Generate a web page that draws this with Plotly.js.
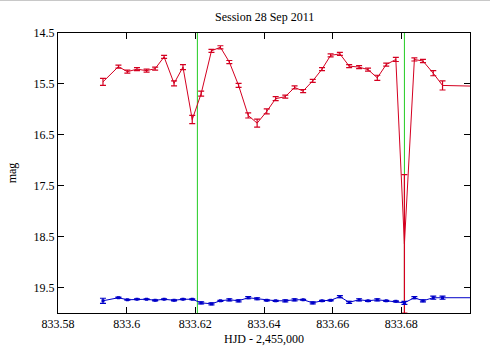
<!DOCTYPE html>
<html>
<head>
<meta charset="utf-8">
<script src="https://cdn.plot.ly/plotly-3.0.1.min.js"></script>
<style>
html,body{margin:0;padding:0;background:#fff;}
#chart{width:490px;height:360px;box-sizing:border-box;border-top:1px solid #c8c8c8;}
</style>
</head>
<body>
<div id="chart"></div>
<script>
// HJD - 2,455,000
const hjd = [833.5931, 833.5976, 833.6002, 833.6030, 833.6058, 833.6083, 833.6109, 833.6138, 833.6164, 833.6191,
             833.6217, 833.6247, 833.6273, 833.6299, 833.6326, 833.6354, 833.6380, 833.6408, 833.6434, 833.6462,
             833.6489, 833.6514, 833.6542, 833.6569, 833.6594, 833.6621, 833.6648, 833.6677, 833.6703, 833.6730,
             833.6756, 833.6784, 833.6809, 833.6838, 833.6863, 833.6893, 833.6920, 833.7050];
const magTarget = [15.46, 15.16, 15.26, 15.21, 15.24, 15.20, 14.97, 15.49, 15.17, 16.20,
                   15.69, 14.85, 14.78, 15.07, 15.53, 16.12, 16.27, 16.04, 15.79, 15.75,
                   15.57, 15.64, 15.44, 15.21, 14.94, 14.91, 15.15, 15.17, 15.22, 15.38,
                   15.12, 15.02, 18.64, 15.02, 15.05, 15.29, 15.53, 15.55];
const errTarget = [0.07, 0.03, 0.03, 0.03, 0.03, 0.03, 0.03, 0.05, 0.05, 0.08,
                   0.05, 0.03, 0.03, 0.03, 0.04, 0.05, 0.08, 0.05, 0.04, 0.03,
                   0.03, 0.03, 0.03, 0.03, 0.03, 0.03, 0.03, 0.03, 0.03, 0.05,
                   0.03, 0.04, 1.36, 0.03, 0.03, 0.05, 0.09, 0.05];
const magComp = [19.76, 19.70, 19.74, 19.73, 19.73, 19.75, 19.73, 19.75, 19.73, 19.73,
                 19.80, 19.82, 19.76, 19.74, 19.76, 19.70, 19.72, 19.75, 19.76, 19.76,
                 19.74, 19.74, 19.80, 19.76, 19.75, 19.68, 19.79, 19.74, 19.76, 19.74,
                 19.76, 19.77, 19.80, 19.70, 19.76, 19.70, 19.70, 19.70];
const errComp = [0.05, 0.01, 0.01, 0.01, 0.01, 0.01, 0.01, 0.01, 0.01, 0.01,
                 0.02, 0.02, 0.01, 0.02, 0.02, 0.02, 0.02, 0.01, 0.01, 0.02,
                 0.02, 0.01, 0.02, 0.01, 0.01, 0.02, 0.02, 0.02, 0.01, 0.02,
                 0.01, 0.01, 0.03, 0.02, 0.02, 0.03, 0.03, 0.01];
const markerTimes = [833.6206, 833.6809];
const xTickVals = [833.58, 833.60, 833.62, 833.64, 833.66, 833.68];
const xTickText = ['833.58', '833.6', '833.62', '833.64', '833.66', '833.68'];
const yTickVals = [14.5, 15.5, 16.5, 17.5, 18.5, 19.5];
const yTickText = ['14.5', '15.5', '16.5', '17.5', '18.5', '19.5'];

const red = '#d40020', blue = '#0000c8', green = '#22cc22';
const serif = '"Liberation Serif", "DejaVu Serif", serif';

const traces = [
  {x: hjd, y: magTarget, type: 'scatter', mode: 'lines',
   line: {color: red, width: 1},
   error_y: {type: 'data', array: errTarget, visible: true, color: red, thickness: 1.2, width: 3}},
  {x: hjd, y: magComp, type: 'scatter', mode: 'lines+markers',
   line: {color: blue, width: 1},
   marker: {color: blue, size: 3, symbol: 'square'},
   error_y: {type: 'data', array: errComp, visible: true, color: blue, thickness: 1.2, width: 3}}
];

const shapes = markerTimes.map(t => ({
  type: 'line', xref: 'x', yref: 'paper', x0: t, x1: t, y0: 0, y1: 1,
  line: {color: green, width: 1}, layer: 'below'
}));

const axisCommon = {
  showgrid: false, zeroline: false, showline: true, linecolor: '#000', linewidth: 1,
  mirror: 'ticks', ticks: 'inside', ticklen: 6, tickwidth: 1, tickcolor: '#000',
  tickfont: {family: serif, size: 12, color: '#000'}
};

const layout = {
  width: 490, height: 359,
  margin: {l: 58, r: 20, t: 32, b: 47},
  paper_bgcolor: '#fff', plot_bgcolor: '#fff',
  showlegend: false,
  title: {text: 'Session 28 Sep 2011', font: {family: serif, size: 12, color: '#000'},
          x: 0.54, xanchor: 'center', y: 0.955, yanchor: 'middle'},
  xaxis: Object.assign({}, axisCommon, {
    range: [833.58, 833.70], tickvals: xTickVals, ticktext: xTickText,
    title: {text: 'HJD - 2,455,000', font: {family: serif, size: 12, color: '#000'}, standoff: 4}
  }),
  yaxis: Object.assign({}, axisCommon, {
    range: [20.0, 14.5], tickvals: yTickVals, ticktext: yTickText,
    title: {text: 'mag', font: {family: serif, size: 12, color: '#000'}, standoff: 14}
  }),
  shapes: shapes
};

Plotly.newPlot('chart', traces, layout, {displayModeBar: false, staticPlot: true});
</script>
</body>
</html>
